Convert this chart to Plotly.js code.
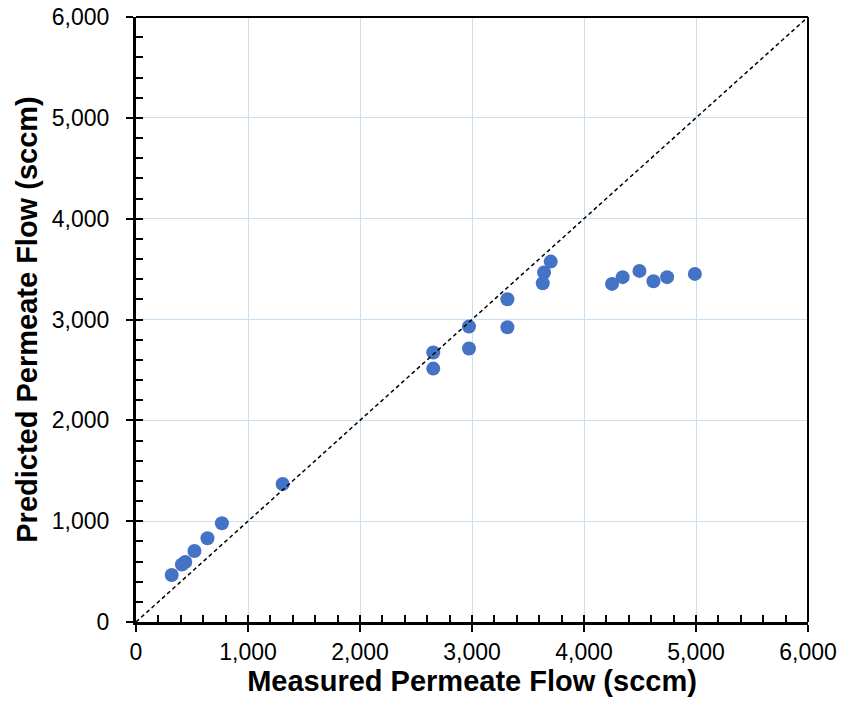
<!DOCTYPE html>
<html><head><meta charset="utf-8">
<script src="https://cdn.plot.ly/plotly-3.0.1.min.js"></script>
<style>html,body{margin:0;padding:0;background:#fff;}#chart{width:845px;height:707px;}</style>
</head><body><div id="chart"></div>
<script>
const measured = [319, 410, 440, 522, 638, 767, 1309, 2654, 2654, 2973, 2973, 3316, 3316, 3632, 3643, 3703, 4250, 4345, 4495, 4620, 4742, 4990];
const predicted = [466, 570, 595, 704, 830, 979, 1369, 2672, 2513, 2930, 2712, 3201, 2923, 3360, 3466, 3574, 3353, 3420, 3482, 3380, 3420, 3452];
const tickVals = [0, 1000, 2000, 3000, 4000, 5000, 6000];
const tickText = ["0", "1,000", "2,000", "3,000", "4,000", "5,000", "6,000"];
const axisMax = 6000;

const font = "Liberation Sans, Arial, sans-serif";
const data = [
  {x: measured, y: predicted, type: 'scatter', mode: 'markers',
   marker: {color: '#4472C4', size: 14}, hoverinfo: 'x+y', showlegend: false},
  {x: [0], y: [0], xaxis: 'x2', yaxis: 'y2', mode: 'markers', marker: {opacity: 0}, showlegend: false, hoverinfo: 'skip'}
];
const baseAxis = {
  range: [0, axisMax], tickvals: tickVals, ticktext: tickText,
  showgrid: true, gridcolor: '#C9DFF2', gridwidth: 1, zeroline: false,
  showline: true, linecolor: '#000', linewidth: 3, mirror: false,
  ticks: 'outside', ticklen: 7, tickwidth: 2, tickcolor: '#000',
  tickfont: {family: font, size: 23, color: '#000'}
};
const layout = {
  width: 845, height: 707,
  margin: {l: 136, r: 37, t: 17, b: 85},
  paper_bgcolor: '#fff', plot_bgcolor: '#fff',
  xaxis: Object.assign({}, baseAxis, {
    title: {text: 'Measured Permeate Flow (sccm)', font: {family: font, size: 29, color: '#000', weight: 'bold'}, standoff: 8}
  }),
  yaxis: Object.assign({}, baseAxis, {
    ticklabelstandoff: 12,
    title: {text: 'Predicted Permeate Flow (sccm)', font: {family: font, size: 29, color: '#000', weight: 'bold'}, standoff: 6}
  }),
  xaxis2: {overlaying: 'x', range: [0, axisMax], dtick: 200, tick0: 0, ticks: 'inside', ticklen: 7, tickwidth: 2, tickcolor: '#000',
           showticklabels: false, showgrid: false, zeroline: false, showline: false, side: 'bottom'},
  yaxis2: {overlaying: 'y', range: [0, axisMax], dtick: 200, tick0: 0, ticks: 'inside', ticklen: 7, tickwidth: 2, tickcolor: '#000',
           showticklabels: false, showgrid: false, zeroline: false, showline: false, side: 'left'},
  shapes: [
    {type: 'line', xref: 'x', yref: 'y', x0: 0, y0: 0, x1: axisMax, y1: axisMax,
     line: {color: '#000', width: 1.5, dash: '4px,3px'}, layer: 'above'},
    {type: 'line', xref: 'paper', yref: 'paper', x0: 0, y0: 1, x1: 1, y1: 1, line: {color: '#000', width: 2}, layer: 'above'},
    {type: 'line', xref: 'paper', yref: 'paper', x0: 1, y0: 0, x1: 1, y1: 1, line: {color: '#000', width: 2}, layer: 'above'}
  ]
};
Plotly.newPlot('chart', data, layout, {displayModeBar: false, staticPlot: true});
</script></body></html>
